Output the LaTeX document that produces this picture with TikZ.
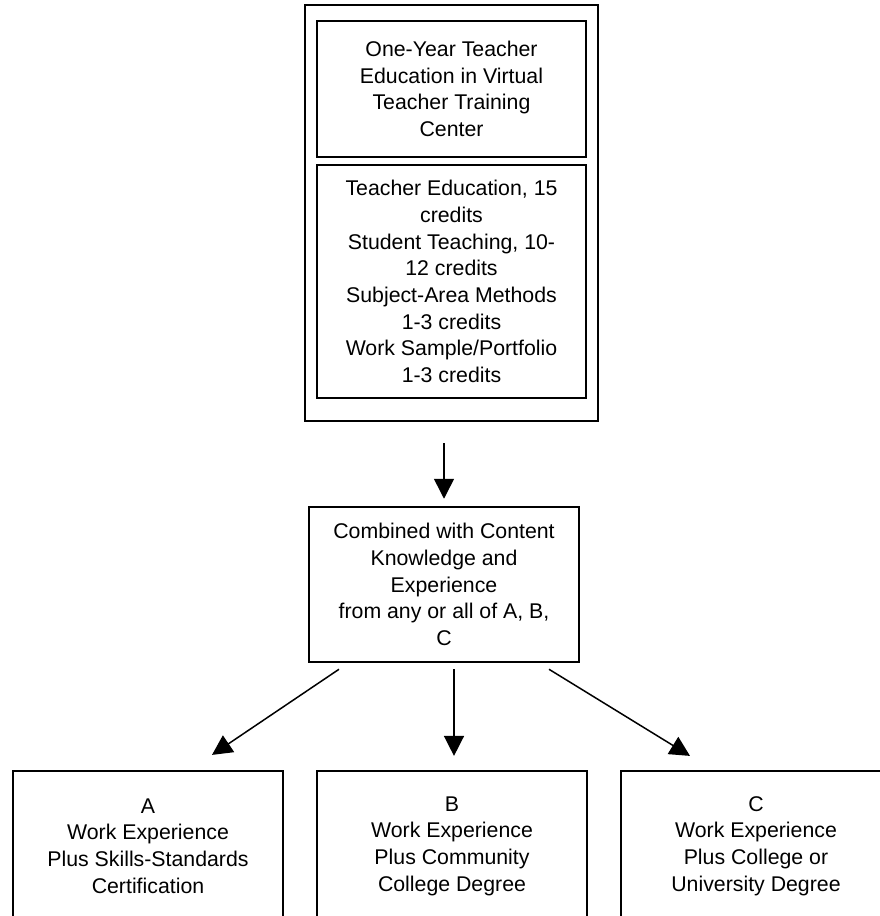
\documentclass[tikz,border=0pt]{standalone}
\usepackage{fontspec}
\setmainfont{Liberation Sans}
\usetikzlibrary{arrows.meta}

\begin{document}
\begin{tikzpicture}[x=1pt,y=-1pt,
      box/.style={draw,line width=2.5pt,align=center,inner sep=0pt,
         font=\fontsize{21.3}{26.7}\selectfont},
      optbox/.style={box,line width=2.2pt,minimum width=270pt,minimum height=150pt},
      arrow/.style={-{Triangle[length=20pt,width=20pt]},line width=1.5pt}]
            \path [use as bounding box,clip] (0,0) rectangle (880,916);

            \node [box,line width=2pt,minimum width=293pt,minimum height=416pt]
               (program) at (451.5,213) {};
            \node [box,minimum width=269pt,minimum height=136pt]
               (title) at (451.5,89)
               {One-Year Teacher\\Education in Virtual\\Teacher Training\\Center};
            \node [box,minimum width=269pt,minimum height=233pt]
               (credits) at (451.5,281.5)
               {Teacher Education, 15\\credits\\Student Teaching, 10-\\12 credits\\
                Subject-Area Methods\\1-3 credits\\Work Sample/Portfolio\\1-3 credits};

            \node [box,minimum width=270pt,minimum height=155pt]
               (combined) at (444,584.5)
               {Combined with Content\\Knowledge and\\Experience\\from any or all of A, B,\\C};

            \node [optbox] (optA) at (148,846)
               {A\\Work Experience\\Plus Skills-Standards\\Certification};
            \node [optbox] (optB) at (452,846)
               {B\\Work Experience\\Plus Community\\College Degree};
            \node [optbox] (optC) at (756,846)
               {C\\Work Experience\\Plus College or\\University Degree};

            \coordinate (fromA) at ([xshift=-105pt,yshift=-6pt]combined.south);
            \coordinate (fromB) at ([xshift=10pt,yshift=-6pt]combined.south);
            \coordinate (fromC) at ([xshift=105pt,yshift=-6pt]combined.south);
            \coordinate (toA) at ([xshift=64pt,yshift=15pt]optA.north);
            \coordinate (toB) at ([xshift=2pt,yshift=14pt]optB.north);
            \coordinate (toC) at ([xshift=-66pt,yshift=14pt]optC.north);

            \draw [arrow,shorten <=21pt,shorten >=7pt]
               (program.south -| combined.north) -- (combined.north);
            \draw [arrow] (fromA) -- (toA);
            \draw [arrow] (fromB) -- (toB);
            \draw [arrow] (fromC) -- (toC);
         \end{tikzpicture}
\end{document}
